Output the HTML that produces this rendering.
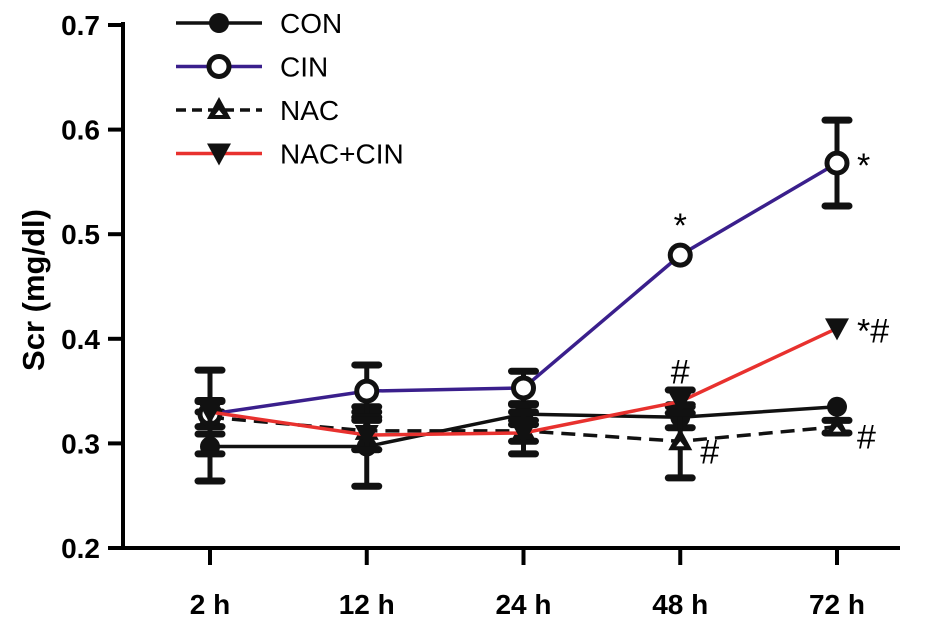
<!DOCTYPE html>
<html><head><meta charset="utf-8"><style>
body{margin:0;background:#fff;}
svg{display:block;font-family:"Liberation Sans",Arial,sans-serif;}
</style></head><body>
<svg id="chart" width="931" height="620"></svg>
<script>
const categories=["2 h","12 h","24 h","48 h","72 h"];
const conVals=[0.297,0.297,0.328,0.325,0.335];
const conErr=[0.033,0.038,0.01,0.01,0.003];
const cinVals=[0.328,0.350,0.353,0.480,0.568];
const cinErr=[0.012,0.025,0.016,0.002,0.041];
const nacVals=[0.325,0.312,0.312,0.302,0.316];
const nacErr=[0.016,0.018,0.01,0.035,0.006];
const ncVals=[0.330,0.308,0.310,0.340,0.410];
const ncErr=[0.04,0.014,0.02,0.011,0.002];
const yTicks=[0.2,0.3,0.4,0.5,0.6,0.7];
const annotations=[["*",3,0.480,"above"],["*",4,0.568,"right"],["*#",4,0.410,"right"],["#",3,0.340,"above"],["#",3,0.302,"right"],["#",4,0.316,"right"]];

const NS="http://www.w3.org/2000/svg";
const svg=document.getElementById('chart');
function yS(v){return 548-(v-0.2)*1046;}
function xS(i){return 210+i*156.75;}
function mk(t,a,p){const e=document.createElementNS(NS,t);for(const k in a)e.setAttribute(k,a[k]);(p||svg).appendChild(e);return e;}

const ax=mk('g',{});


mk('line',{x1:123,y1:22,x2:123,y2:550,stroke:'#000','stroke-width':4},ax);
mk('line',{x1:121,y1:548,x2:900,y2:548,stroke:'#000','stroke-width':4},ax);
yTicks.forEach(v=>{
  mk('line',{x1:108,y1:yS(v),x2:123,y2:yS(v),stroke:'#000','stroke-width':4},ax);
  const t=mk('text',{x:100,y:yS(v)+10,'text-anchor':'end','font-size':28,'font-weight':'bold'},ax);
  t.textContent=v.toFixed(1);
  
  
});
categories.forEach((c,i)=>{
  mk('line',{x1:xS(i),y1:548,x2:xS(i),y2:565,stroke:'#000','stroke-width':4},ax);
  const t=mk('text',{x:xS(i),y:614,'text-anchor':'middle','font-size':28,'font-weight':'bold'},ax);
  t.textContent=c;
  
  
});
const yt=mk('text',{x:0,y:0,transform:'translate(44,290) rotate(-90)','text-anchor':'middle','font-size':31,'font-weight':'bold'});
yt.textContent='Scr (mg/dl)';



function marker(type,x,y,g){
  if(type==='dot')mk('circle',{cx:x,cy:y,r:10,fill:'#111'},g);
  if(type==='ring')mk('circle',{cx:x,cy:y,r:10,fill:'#fff',stroke:'#111','stroke-width':5},g);
  if(type==='up'){mk('polygon',{points:`${x},${y-13} ${x-12},${y+9} ${x+12},${y+9}`,fill:'#111'},g);mk('polygon',{points:`${x},${y} ${x-4},${y+5} ${x+4},${y+5}`,fill:'#fff'},g);}
  if(type==='down')mk('polygon',{points:`${x-12},${y-10} ${x+12},${y-10} ${x},${y+12}`,fill:'#111'},g);
}
const series=[
  {name:'con',vals:conVals,err:conErr,color:'#111',dash:'',m:'dot'},
  {name:'nac',vals:nacVals,err:nacErr,color:'#111',dash:'14 8',m:'up'},
  {name:'cin',vals:cinVals,err:cinErr,color:'#3a1f8c',dash:'',m:'ring'},
  {name:'nac-cin',vals:ncVals,err:ncErr,color:'#e8312e',dash:'',m:'down'}
];
series.forEach(s=>{
  const g=mk('g',{});
  
  
  s.vals.forEach((v,i)=>{
    if(s.err[i]<0.005)return;
    const x=xS(i),t=yS(v+s.err[i]),b=yS(v-s.err[i]);
    mk('line',{x1:x,y1:t,x2:x,y2:b,stroke:'#111','stroke-width':5},g);
    mk('line',{x1:x-12,y1:t,x2:x+12,y2:t,stroke:'#111','stroke-width':7,'stroke-linecap':'round'},g);
    mk('line',{x1:x-12,y1:b,x2:x+12,y2:b,stroke:'#111','stroke-width':7,'stroke-linecap':'round'},g);
  });
  mk('polyline',{points:s.vals.map((v,i)=>xS(i)+','+yS(v)).join(' '),fill:'none',stroke:s.color,'stroke-width':3.5,'stroke-dasharray':s.dash},g);
  s.vals.forEach((v,i)=>marker(s.m,xS(i),yS(v),g));
});
annotations.forEach(a=>{
  const x=xS(a[1]),y=yS(a[2]);
  const t=a[3]==='above'?mk('text',{x:x,y:y-18,'text-anchor':'middle','font-size':34},svg):mk('text',{x:x+20,y:y+(a[0]==='#'?22:14),'font-size':34});
  t.textContent=a[0];
  
  
});
const lg=mk('g',{});


const lgItems=[['CON','#111','','dot'],['CIN','#3a1f8c','','ring'],['NAC','#111','10 6','up'],['NAC+CIN','#e8312e','','down']];
lgItems.forEach((it,k)=>{
  const y=23+k*43.5;
  const e=mk('g',{},lg);
  
  
  mk('line',{x1:176,y1:y,x2:262,y2:y,stroke:it[1],'stroke-width':3.5,'stroke-dasharray':it[2]},e);
  marker(it[3],219,y,e);
  const t=mk('text',{x:280,y:y+10,'font-size':28},e);
  t.textContent=it[0];
});
</script>
</body></html>
